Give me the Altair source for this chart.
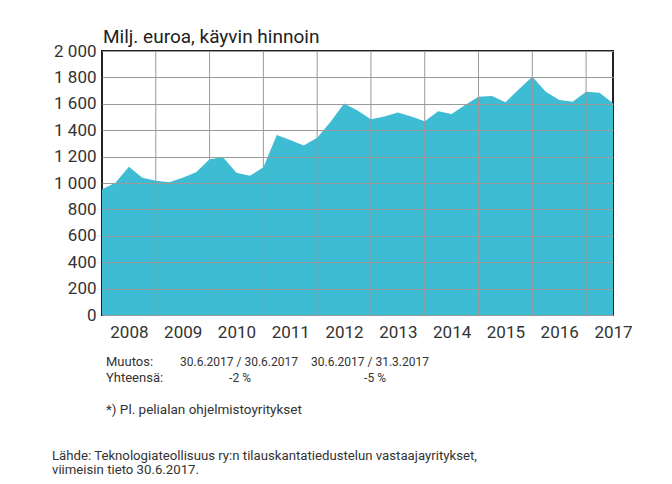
import altair as alt
import pandas as pd

# Quarterly order intake (Milj. euroa, current prices), quarter-end values
periods = [
    "2007Q4",
    "2008Q1", "2008Q2", "2008Q3", "2008Q4",
    "2009Q1", "2009Q2", "2009Q3", "2009Q4",
    "2010Q1", "2010Q2", "2010Q3", "2010Q4",
    "2011Q1", "2011Q2", "2011Q3", "2011Q4",
    "2012Q1", "2012Q2", "2012Q3", "2012Q4",
    "2013Q1", "2013Q2", "2013Q3", "2013Q4",
    "2014Q1", "2014Q2", "2014Q3", "2014Q4",
    "2015Q1", "2015Q2", "2015Q3", "2015Q4",
    "2016Q1", "2016Q2", "2016Q3", "2016Q4",
    "2017Q1", "2017Q2",
]
values = [
    952,
    1002, 1124, 1040, 1017,
    1005, 1040, 1081, 1179,
    1195, 1078, 1055, 1119,
    1364, 1326, 1285, 1343,
    1464, 1603, 1550, 1483,
    1503, 1535, 1503, 1467,
    1543, 1523, 1590, 1654,
    1659, 1611, 1710, 1805,
    1692, 1629, 1616, 1692,
    1684, 1604,
]
year_label_pos = [2008.5, 2009.5, 2010.5, 2011.5, 2012.5, 2013.5, 2014.5, 2015.5, 2016.5, 2017.5]
year_bounds = [2009, 2010, 2011, 2012, 2013, 2014, 2015, 2016, 2017]
y_ticks = [0, 200, 400, 600, 800, 1000, 1200, 1400, 1600, 1800, 2000]

title_text = "Milj. euroa, käyvin hinnoin"
note_texts = [
    "Muutos:",
    "30.6.2017 / 30.6.2017",
    "30.6.2017 / 31.3.2017",
    "Yhteensä:",
    "-2 %",
    "-5 %",
    "*) Pl. pelialan ohjelmistoyritykset",
    "Lähde: Teknologiateollisuus ry:n tilauskantatiedustelun vastaajayritykset,",
    "viimeisin tieto 30.6.2017.",
]

# layout of the annotation texts (plot-area pixel offsets)
note_layout = [
    (4, 315, "left", 13),
    (78, 315, "left", 12),
    (209, 315, "left", 12),
    (4, 331, "left", 13),
    (138, 331, "center", 12),
    (273, 331, "center", 12),
    (4, 363, "left", 13.5),
    (-50, 409, "left", 13.2),
    (-50, 423, "left", 13.2),
]

FONT = "Roboto"

df = pd.DataFrame({
    "period": periods,
    "t": [int(p[:4]) + int(p[5]) / 4 for p in periods],
    "v": values,
})
grid_df = pd.DataFrame({"yb": year_bounds})

x_scale = alt.Scale(domain=[2008, 2017.5], nice=False, zero=False)
y_scale = alt.Scale(domain=[0, 2000], nice=False)

area = alt.Chart(df).mark_area(color="#3dbcd3", opacity=1).encode(
    x=alt.X("t:Q", scale=x_scale, title=None,
            axis=alt.Axis(values=year_label_pos, labelExpr="format(floor(datum.value), 'd')",
                          grid=False, ticks=False, domain=False, labelFlush=False,
                          labelOverlap=False, labelPadding=9, labelFontSize=17,
                          labelFont=FONT, labelColor="#333333")),
    y=alt.Y("v:Q", scale=y_scale, title=None,
            axis=alt.Axis(values=y_ticks, labelExpr="replace(format(datum.value, ','), ',', ' ')",
                          grid=True, gridColor="#9a9a9a", gridWidth=1, ticks=False,
                          domain=False, zindex=1, labelPadding=6, labelFontSize=17,
                          labelFont=FONT, labelColor="#333333")),
)

vgrid = alt.Chart(grid_df).mark_rule(color="#9a9a9a", strokeWidth=1).encode(
    x=alt.X("yb:Q", scale=x_scale)
)

title = alt.Chart(pd.DataFrame({"txt": [title_text]})).mark_text(
    align="left", baseline="alphabetic", fontSize=19, font=FONT, color="#222222"
).encode(x=alt.value(1), y=alt.value(-8), text="txt:N")

note_layers = []
for txt, (xx, yy, al, fs) in zip(note_texts, note_layout):
    note_layers.append(
        alt.Chart(pd.DataFrame({"txt": [txt]})).mark_text(
            align=al, baseline="alphabetic", fontSize=fs, font=FONT, color="#333333"
        ).encode(x=alt.value(xx), y=alt.value(yy), text="txt:N")
    )

chart = alt.layer(area, vgrid, title, *note_layers).properties(
    width=511, height=264,
    autosize=alt.AutoSizeParams(type="none"),
    padding={"left": 94, "top": 43, "right": 51, "bottom": 161},
    background="white",
).configure_view(stroke="#222222", strokeWidth=2)

chart.save("out.html", embed_options={"renderer": "svg", "actions": False})
